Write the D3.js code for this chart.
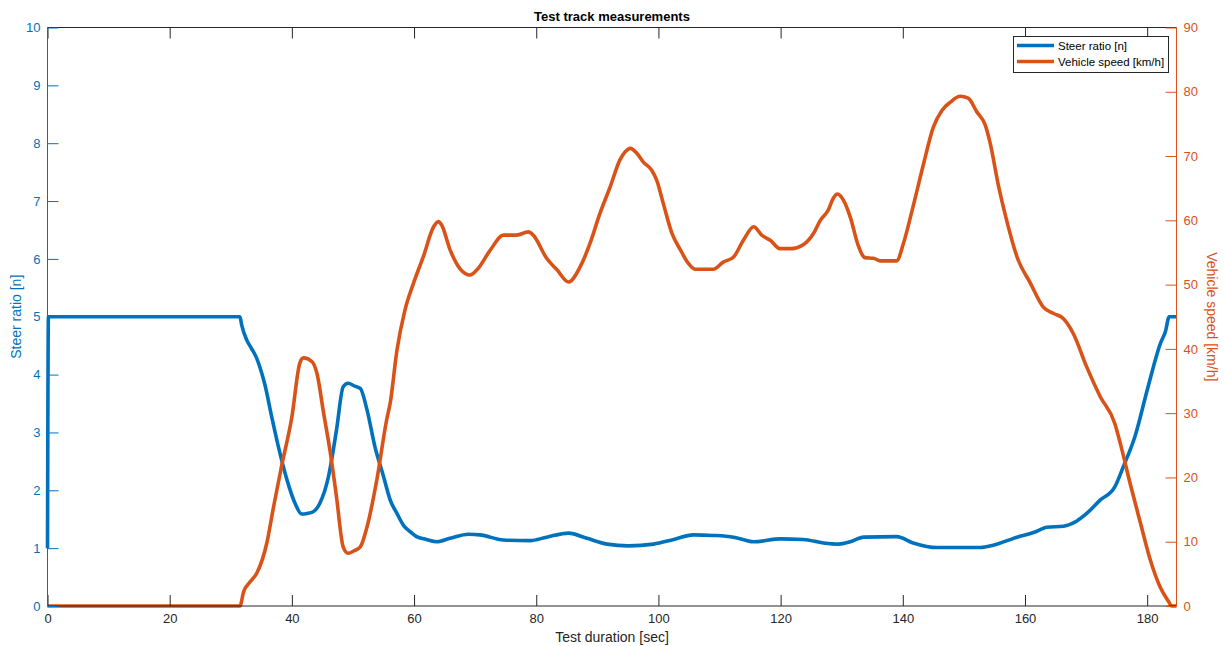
<!DOCTYPE html>
<html>
<head>
<meta charset="utf-8">
<script src="https://cdn.jsdelivr.net/npm/d3@7"></script>
<style>
  html, body { margin: 0; padding: 0; background: #fff; }
  svg { display: block; font-family: "Liberation Sans", Arial, Helvetica, sans-serif; }
</style>
</head>
<body>
<svg id="chart" width="1224" height="646"></svg>
<script>
// Test duration [sec] and steer ratio [n]
const steerTime = [0, 0.15, 10, 20, 31.5, 31.8, 32.6, 33.4, 34.25, 35.0, 35.6, 36.7, 37.8, 39.2, 40.5, 41.6, 42.5, 43.5, 44.6, 46.0, 47.3, 48.4, 49.2, 50.3, 51.2, 52.3, 53.6, 55.0, 56.1, 57.2, 58.3, 59.3, 60.4, 62.0, 63.7, 65.9, 68.9, 70.8, 74.6, 79.0, 81.7, 85.3, 88.3, 91.6, 95.1, 99.2, 102.5, 105.7, 109.0, 112.3, 115.6, 120.0, 123.7, 127.0, 129.5, 131.4, 133.6, 139.0, 141.7, 145.6, 152.7, 154.8, 158.7, 161.4, 163.6, 166.3, 168.5, 170.1, 172.3, 174.7, 176.1, 178.0, 180.0, 182.2, 183.0, 183.6, 184.8];
const steerRatio = [1.0, 5.0, 5.0, 5.0, 5.0, 4.85, 4.6, 4.45, 4.28, 4.05, 3.82, 3.27, 2.75, 2.18, 1.78, 1.59, 1.6, 1.63, 1.78, 2.24, 3.04, 3.79, 3.85, 3.8, 3.76, 3.39, 2.75, 2.24, 1.83, 1.6, 1.39, 1.29, 1.2, 1.15, 1.11, 1.17, 1.24, 1.23, 1.14, 1.13, 1.19, 1.26, 1.17, 1.07, 1.04, 1.07, 1.15, 1.23, 1.22, 1.19, 1.11, 1.16, 1.15, 1.09, 1.07, 1.11, 1.19, 1.2, 1.09, 1.01, 1.01, 1.05, 1.19, 1.27, 1.36, 1.38, 1.47, 1.6, 1.83, 2.06, 2.41, 2.93, 3.73, 4.55, 4.75, 5.0, 5.0];

// Test duration [sec] and vehicle speed [km/h]
const speedTime = [0, 10, 20, 31.5, 32.1, 33.2, 34.25, 35.9, 37.0, 38.3, 40.0, 41.3, 41.9, 43.3, 44.1, 45.2, 46.3, 47.3, 48.4, 49.2, 50.2, 51.2, 52.3, 53.9, 55.5, 56.1, 57.2, 58.5, 59.9, 61.5, 63.2, 64.0, 64.5, 65.9, 67.5, 69.2, 70.3, 72.5, 74.6, 76.8, 78.7, 79.5, 81.7, 83.4, 85.3, 87.2, 88.8, 90.4, 92.1, 93.7, 94.6, 95.4, 96.5, 97.5, 98.9, 99.7, 100.8, 102.2, 103.6, 104.9, 106.0, 109.0, 110.6, 112.3, 113.9, 115.6, 116.9, 118.3, 119.9, 121.8, 123.7, 125.4, 126.5, 127.8, 128.6, 129.3, 130.3, 131.4, 132.7, 133.8, 135.2, 136.3, 139.0, 140.1, 141.8, 143.4, 145.0, 146.4, 147.8, 149.4, 150.7, 152.1, 153.5, 154.3, 155.7, 157.0, 158.7, 160.9, 163.0, 164.7, 166.3, 167.9, 170.1, 172.3, 174.7, 175.6, 177.2, 178.9, 180.5, 182.1, 183.5, 184.0, 184.8];
const vehicleSpeed = [0, 0, 0, 0, 2.2, 3.8, 5.1, 9.8, 15.4, 21.7, 29.4, 37.8, 38.6, 38.0, 36.2, 30.0, 23.8, 17.0, 9.2, 8.2, 8.6, 9.2, 12.3, 19.6, 28.9, 31.6, 39.8, 46.0, 50.2, 54.3, 59.0, 59.8, 59.3, 55.4, 52.5, 51.5, 52.3, 55.4, 57.7, 57.7, 58.2, 57.7, 54.1, 52.3, 50.4, 52.8, 56.4, 61.0, 65.2, 69.4, 70.7, 71.2, 70.4, 69.1, 67.8, 66.3, 62.6, 58.0, 55.4, 53.3, 52.4, 52.4, 53.5, 54.3, 56.9, 59.0, 57.7, 56.9, 55.6, 55.6, 56.2, 58.0, 60.0, 61.6, 63.4, 64.1, 63.1, 60.5, 56.1, 54.2, 54.1, 53.7, 53.7, 56.4, 62.6, 68.8, 74.5, 77.1, 78.4, 79.3, 79.0, 76.9, 74.8, 72.0, 65.2, 60.0, 54.3, 50.2, 46.5, 45.5, 44.7, 42.4, 37.2, 32.6, 28.4, 25.3, 19.1, 12.9, 7.2, 3.0, 0.7, 0, 0];

const xTicks = [0, 20, 40, 60, 80, 100, 120, 140, 160, 180];
const steerTicks = [0, 1, 2, 3, 4, 5, 6, 7, 8, 9, 10];
const speedTicks = [0, 10, 20, 30, 40, 50, 60, 70, 80, 90];

const seriesNames = ["Steer ratio [n]", "Vehicle speed [km/h]"];
const chartTitle = "Test track measurements";
const xLabel = "Test duration [sec]";

const blue = "#0072BD", orange = "#D95319", axisGrey = "#262626";

const svg = d3.select("#chart");
const m = { left: 47.5, right: 1176.5, top: 27.5, bottom: 606 };
const tickLen = 11;

const x = d3.scaleLinear().domain([0, 184.8]).range([m.left, m.right]);
const yL = d3.scaleLinear().domain([0, 10]).range([m.bottom, m.top]);
const yR = d3.scaleLinear().domain([0, 90]).range([m.bottom, m.top]);

// Series lines
const steerPts = steerTime.map((t, i) => [t, steerRatio[i]]);
const speedPts = speedTime.map((t, i) => [t, vehicleSpeed[i]]);

const lineL = d3.line().x(d => x(d[0])).y(d => yL(d[1])).curve(d3.curveMonotoneX);
const lineR = d3.line().x(d => x(d[0])).y(d => yR(d[1])).curve(d3.curveMonotoneX);

const plot = svg.append("g");
plot.append("path").datum(steerPts).attr("d", lineL)
  .attr("fill", "none").attr("stroke", blue).attr("stroke-width", 3.6)
  .attr("stroke-linejoin", "round");
plot.append("path").datum(speedPts).attr("d", lineR)
  .attr("fill", "none").attr("stroke", orange).attr("stroke-width", 3.6)
  .attr("stroke-linejoin", "round");

// Bottom axis
const xBottom = d3.axisBottom(x).tickValues(xTicks).tickSize(-tickLen).tickPadding(8).tickFormat(d3.format("d"));
const gB = svg.append("g").attr("transform", `translate(0,${m.bottom})`).call(xBottom);
gB.select(".domain").attr("stroke", axisGrey).attr("d", `M${m.left},0H${m.right}`);
gB.selectAll(".tick line").attr("stroke", axisGrey);
gB.selectAll(".tick text").attr("fill", axisGrey).style("font-size", "13px");

// Top axis (ticks only)
const xTop = d3.axisTop(x).tickValues(xTicks).tickSize(-tickLen).tickFormat("");
const gT = svg.append("g").attr("transform", `translate(0,${m.top})`).call(xTop);
gT.select(".domain").attr("stroke", axisGrey).attr("d", `M${m.left},0H${m.right}`);
gT.selectAll(".tick line").attr("stroke", axisGrey);

// Left axis
const aL = d3.axisLeft(yL).tickValues(steerTicks).tickSize(-tickLen).tickPadding(7).tickFormat(d3.format("d"));
const gL = svg.append("g").attr("transform", `translate(${m.left},0)`).call(aL);
gL.select(".domain").attr("stroke", blue).attr("d", `M0,${m.top}V${m.bottom}`);
gL.selectAll(".tick line").attr("stroke", blue);
gL.selectAll(".tick text").attr("fill", blue).style("font-size", "13px");

// Right axis
const aR = d3.axisRight(yR).tickValues(speedTicks).tickSize(-tickLen).tickPadding(7).tickFormat(d3.format("d"));
const gR = svg.append("g").attr("transform", `translate(${m.right},0)`).call(aR);
gR.select(".domain").attr("stroke", orange).attr("d", `M0,${m.top}V${m.bottom}`);
gR.selectAll(".tick line").attr("stroke", orange);
gR.selectAll(".tick text").attr("fill", orange).style("font-size", "13px");

// Title and axis labels
svg.append("text").attr("x", (m.left + m.right) / 2).attr("y", 21)
  .attr("text-anchor", "middle").style("font-size", "13px").style("font-weight", "bold")
  .attr("fill", "#000").text(chartTitle);

svg.append("text").attr("x", (m.left + m.right) / 2).attr("y", 642)
  .attr("text-anchor", "middle").style("font-size", "14px").attr("fill", axisGrey).text(xLabel);

svg.append("text").attr("transform", `translate(21,${(m.top + m.bottom) / 2}) rotate(-90)`)
  .attr("text-anchor", "middle").style("font-size", "14px").attr("fill", blue).text(seriesNames[0]);

svg.append("text").attr("transform", `translate(1207,${(m.top + m.bottom) / 2}) rotate(90)`)
  .attr("text-anchor", "middle").style("font-size", "14px").attr("fill", orange).text(seriesNames[1]);

// Legend
const lg = svg.append("g").attr("transform", "translate(1013,36)");
lg.append("rect").attr("x", 0.5).attr("y", 0.5).attr("width", 155).attr("height", 36)
  .attr("fill", "#fff").attr("stroke", axisGrey).attr("stroke-width", 1);
[blue, orange].forEach((c, i) => {
  const yy = 9.5 + i * 16;
  lg.append("line").attr("x1", 4).attr("x2", 41).attr("y1", yy).attr("y2", yy)
    .attr("stroke", c).attr("stroke-width", 3.6);
  lg.append("text").attr("x", 45).attr("y", yy + 4).style("font-size", "11.5px")
    .attr("fill", "#000").text(seriesNames[i]);
});
</script>
</body>
</html>
